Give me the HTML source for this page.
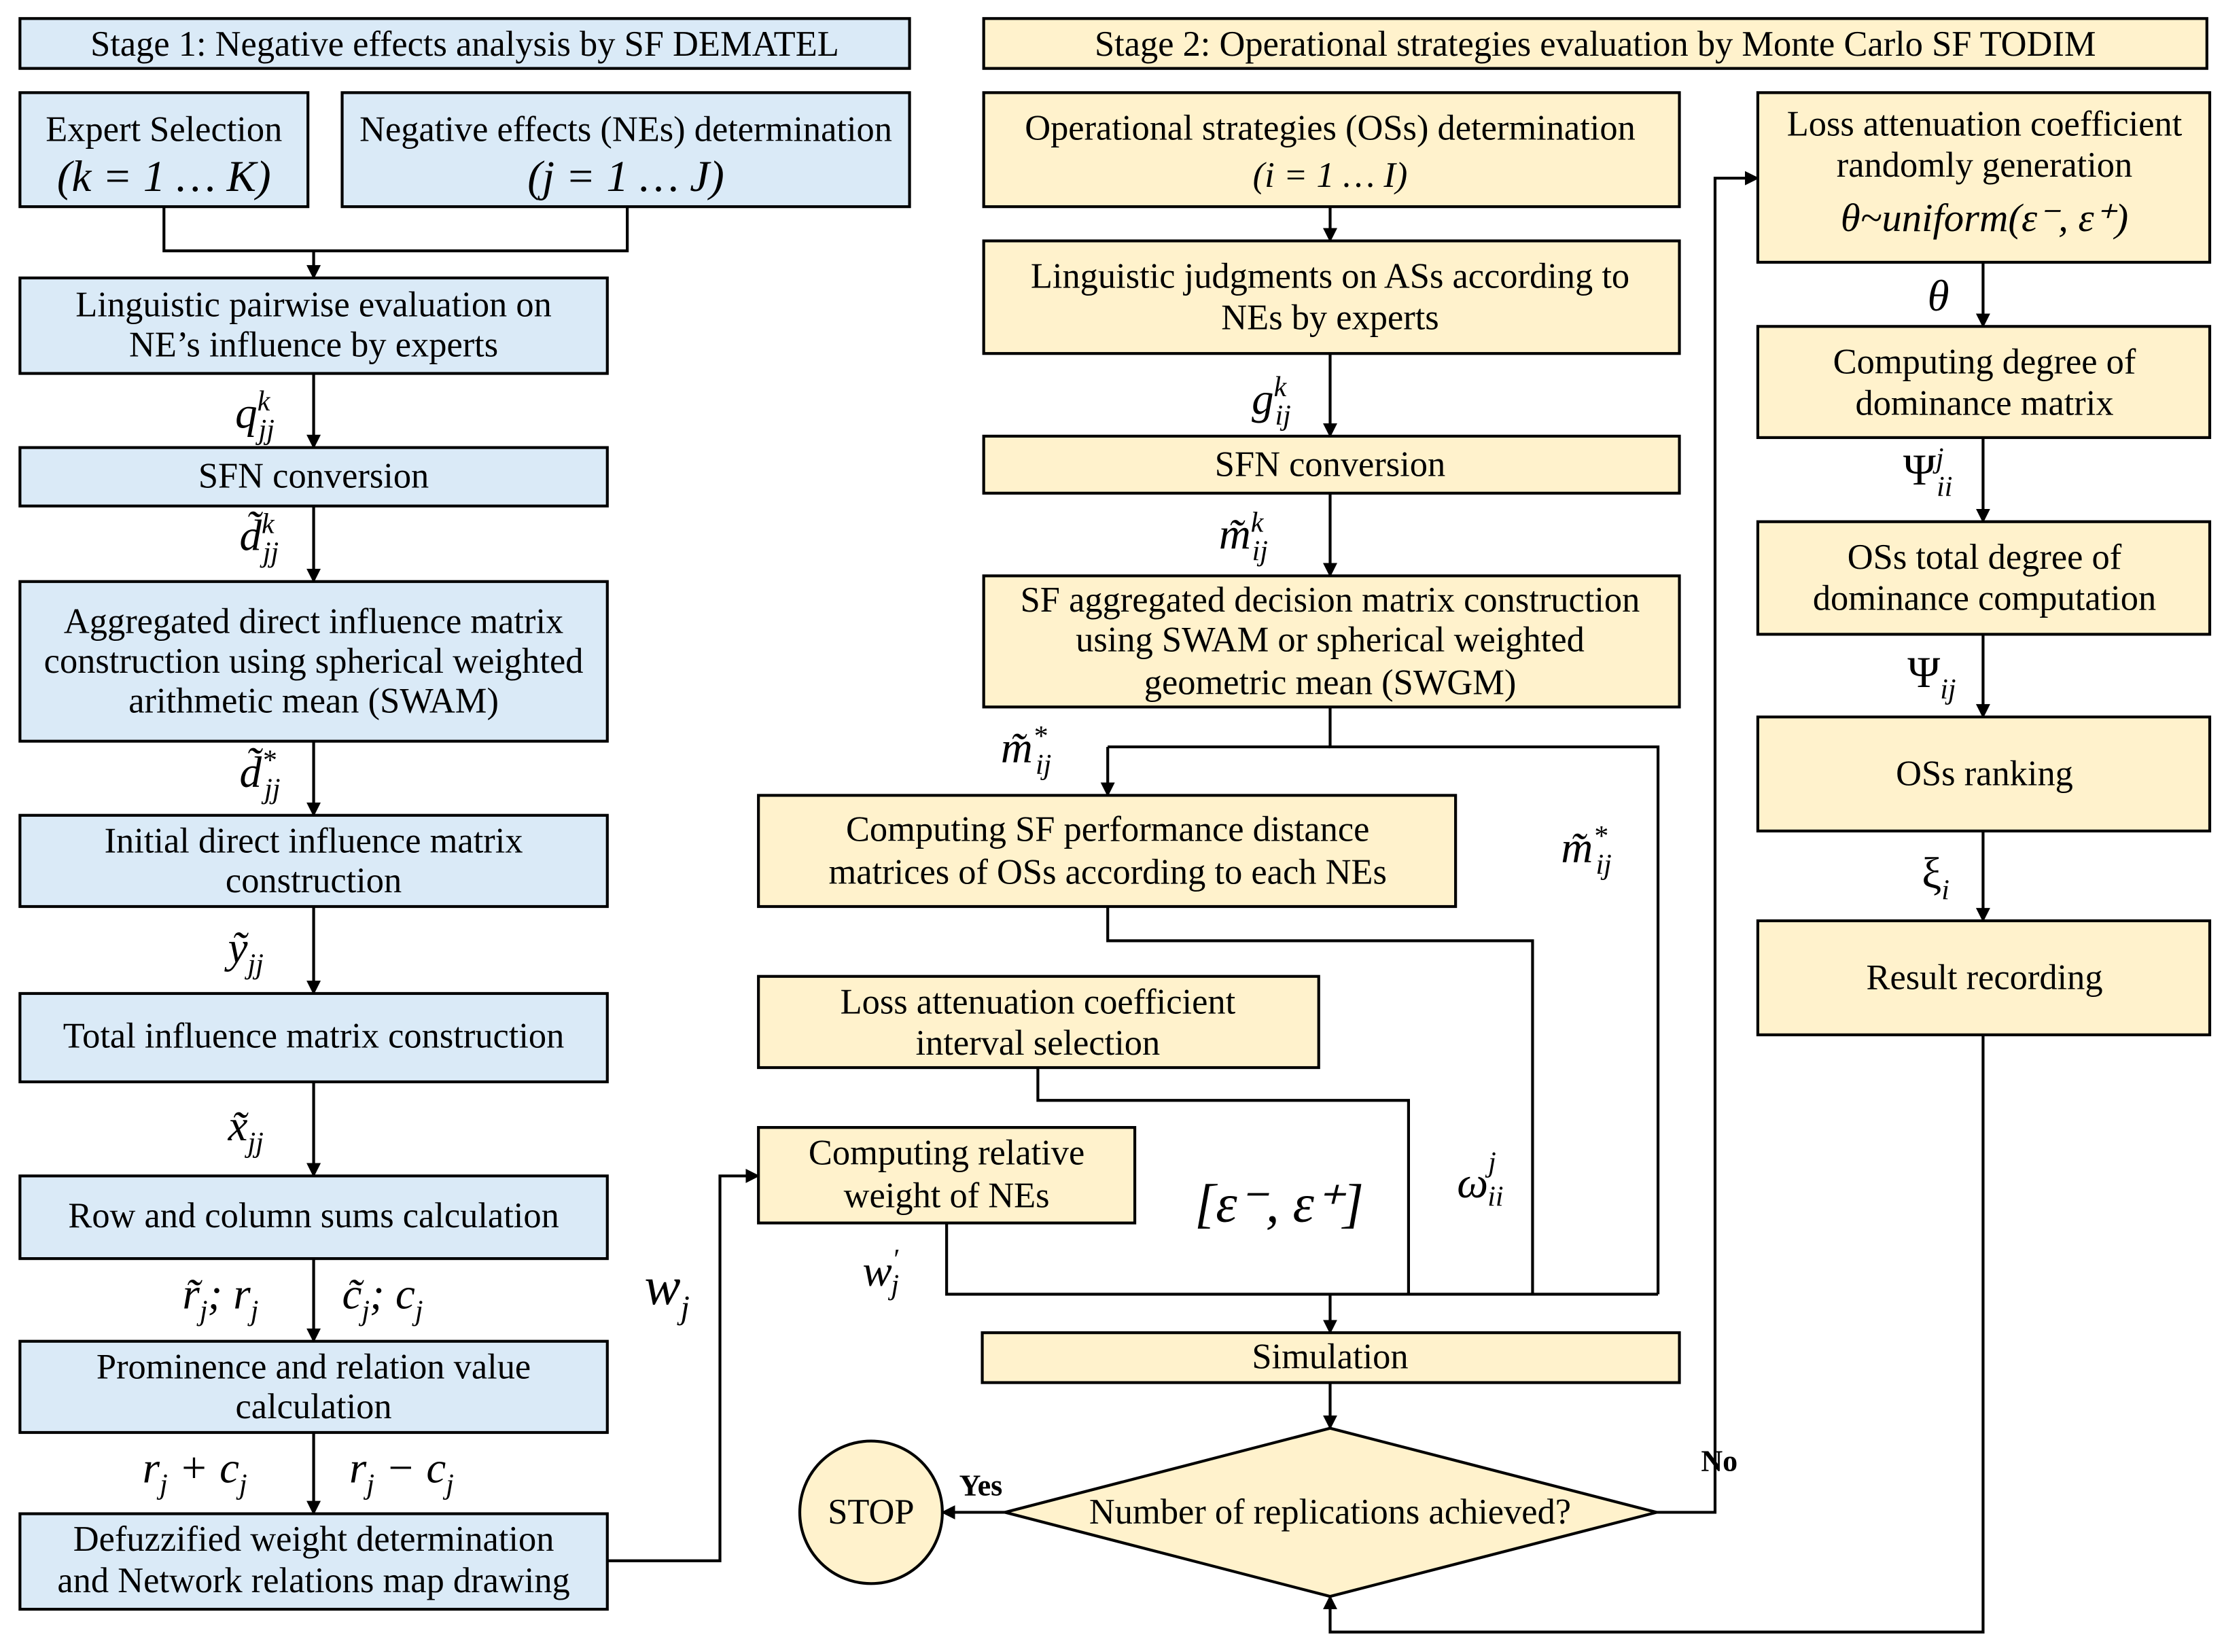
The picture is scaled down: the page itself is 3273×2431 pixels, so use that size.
<!DOCTYPE html>
<html><head><meta charset="utf-8"><style>html,body{margin:0;padding:0;background:#fff}svg{display:block}</style></head>
<body>
<svg width="3273" height="2431" viewBox="0 0 1560 1159" preserveAspectRatio="none" xmlns="http://www.w3.org/2000/svg" font-family="Liberation Serif, serif">
<defs><marker id="a" markerWidth="10" markerHeight="10" refX="9" refY="5" orient="auto" markerUnits="userSpaceOnUse"><path d="M0,0 L10,5 L0,10 z" fill="#000"/></marker></defs>
<g stroke="#000" stroke-width="2">
<g fill="#DAEAF7">
<rect x="14" y="13" width="624" height="35"/>
<rect x="14" y="65" width="202" height="80"/>
<rect x="240" y="65" width="398" height="80"/>
<rect x="14" y="195" width="412" height="67"/>
<rect x="14" y="314" width="412" height="41"/>
<rect x="14" y="408" width="412" height="112"/>
<rect x="14" y="572" width="412" height="64"/>
<rect x="14" y="697" width="412" height="62"/>
<rect x="14" y="825" width="412" height="58"/>
<rect x="14" y="941" width="412" height="64"/>
<rect x="14" y="1062" width="412" height="67"/>
</g>
<g fill="#FFF2CC">
<rect x="690" y="13" width="858" height="35"/>
<rect x="690" y="65" width="488" height="80"/>
<rect x="690" y="169" width="488" height="79"/>
<rect x="690" y="306" width="488" height="40"/>
<rect x="690" y="404" width="488" height="92"/>
<rect x="532" y="558" width="489" height="78"/>
<rect x="532" y="685" width="393" height="64"/>
<rect x="532" y="791" width="264" height="67"/>
<rect x="689" y="935" width="489" height="35"/>
<polygon points="705,1061 933,1002 1162,1061 933,1120"/>
<circle cx="611" cy="1061" r="50"/>
<rect x="1233" y="65" width="317" height="119"/>
<rect x="1233" y="229" width="317" height="78"/>
<rect x="1233" y="366" width="317" height="79"/>
<rect x="1233" y="503" width="317" height="80"/>
<rect x="1233" y="646" width="317" height="80"/>
</g>
<g fill="none">
<path d="M115,145V176H440V145"/>
<path d="M220,176V195" marker-end="url(#a)"/>
<path d="M220,262V314" marker-end="url(#a)"/>
<path d="M220,355V408" marker-end="url(#a)"/>
<path d="M220,520V572" marker-end="url(#a)"/>
<path d="M220,636V697" marker-end="url(#a)"/>
<path d="M220,759V825" marker-end="url(#a)"/>
<path d="M220,883V941" marker-end="url(#a)"/>
<path d="M220,1005V1062" marker-end="url(#a)"/>
<path d="M426,1095H505V825H532" marker-end="url(#a)"/>
<path d="M933,145V169" marker-end="url(#a)"/>
<path d="M933,248V306" marker-end="url(#a)"/>
<path d="M933,346V404" marker-end="url(#a)"/>
<path d="M933,496V524H1163V908"/>
<path d="M777,524H933"/>
<path d="M777,524V558" marker-end="url(#a)"/>
<path d="M777,636V660H1075V908"/>
<path d="M728,749V772H988V908"/>
<path d="M664,858V908H1163"/>
<path d="M933,908V935" marker-end="url(#a)"/>
<path d="M933,970V1002" marker-end="url(#a)"/>
<path d="M705,1061H661" marker-end="url(#a)"/>
<path d="M1162,1061H1203V125H1233" marker-end="url(#a)"/>
<path d="M1391,184V229" marker-end="url(#a)"/>
<path d="M1391,307V366" marker-end="url(#a)"/>
<path d="M1391,445V503" marker-end="url(#a)"/>
<path d="M1391,583V646" marker-end="url(#a)"/>
<path d="M1391,726V1145H933V1120" marker-end="url(#a)"/>
</g>
</g>
<g font-size="25" text-anchor="middle" fill="#000">
<text x="326" y="39">Stage 1: Negative effects analysis by SF DEMATEL</text>
<text x="1119" y="39">Stage 2: Operational strategies evaluation by Monte Carlo SF TODIM</text>
<text x="115" y="99">Expert Selection</text>
<text x="115" y="134" font-size="31" font-style="italic">(k = 1 … K)</text>
<text x="439" y="99">Negative effects (NEs) determination</text>
<text x="439" y="134" font-size="31" font-style="italic">(j = 1 … J)</text>
<text x="220" y="222">Linguistic pairwise evaluation on</text>
<text x="220" y="250">NE’s influence by experts</text>
<text x="220" y="342">SFN conversion</text>
<text x="220" y="444">Aggregated direct influence matrix</text>
<text x="220" y="472">construction using spherical weighted</text>
<text x="220" y="500">arithmetic mean (SWAM)</text>
<text x="220" y="598">Initial direct influence matrix</text>
<text x="220" y="626">construction</text>
<text x="220" y="735">Total influence matrix construction</text>
<text x="220" y="861">Row and column sums calculation</text>
<text x="220" y="967">Prominence and relation value</text>
<text x="220" y="995">calculation</text>
<text x="220" y="1088">Defuzzified weight determination</text>
<text x="220" y="1117">and Network relations map drawing</text>
<text x="933" y="98">Operational strategies (OSs) determination</text>
<text x="933" y="131" font-style="italic">(i = 1 … I)</text>
<text x="933" y="202">Linguistic judgments on ASs according to</text>
<text x="933" y="231">NEs by experts</text>
<text x="933" y="334">SFN conversion</text>
<text x="933" y="429">SF aggregated decision matrix construction</text>
<text x="933" y="457">using SWAM or spherical weighted</text>
<text x="933" y="487">geometric mean (SWGM)</text>
<text x="777" y="590">Computing SF performance distance</text>
<text x="777" y="620">matrices of OSs according to each NEs</text>
<text x="728" y="711">Loss attenuation coefficient</text>
<text x="728" y="740">interval selection</text>
<text x="664" y="817">Computing relative</text>
<text x="664" y="847">weight of NEs</text>
<text x="933" y="960">Simulation</text>
<text x="933" y="1069">Number of replications achieved?</text>
<text x="611" y="1069">STOP</text>
<text x="1392" y="95">Loss attenuation coefficient</text>
<text x="1392" y="124">randomly generation</text>
<text x="1392" y="162" font-size="28" font-style="italic">θ~uniform(ε⁻, ε⁺)</text>
<text x="1392" y="262">Computing degree of</text>
<text x="1392" y="291">dominance matrix</text>
<text x="1392" y="399">OSs total degree of</text>
<text x="1392" y="428">dominance computation</text>
<text x="1392" y="551">OSs ranking</text>
<text x="1392" y="694">Result recording</text>
<text x="688" y="1049" font-weight="bold" font-size="21">Yes</text>
<text x="1206" y="1032" font-weight="bold" font-size="21">No</text>
</g>
<g font-size="31" font-style="italic" fill="#000">
<text x="165" y="300">q<tspan font-size="20" dy="-12">k</tspan><tspan font-size="20" dx="-8" dy="20">jj</tspan></text>
<text x="168" y="386">d̃<tspan font-size="20" dy="-12">k</tspan><tspan font-size="20" dx="-8" dy="20">jj</tspan></text>
<text x="168" y="552">d̃<tspan font-size="20" dy="-12">*</tspan><tspan font-size="20" dx="-8" dy="20">jj</tspan></text>
<text x="160" y="675">ỹ<tspan font-size="20" dy="8">jj</tspan></text>
<text x="160" y="800">x̃<tspan font-size="20" dy="8">jj</tspan></text>
<text x="128" y="918">r̃<tspan font-size="20" dy="8">j</tspan><tspan dy="-8">; r</tspan><tspan font-size="20" dy="8">j</tspan></text>
<text x="240" y="918">c̃<tspan font-size="20" dy="8">j</tspan><tspan dy="-8">; c</tspan><tspan font-size="20" dy="8">j</tspan></text>
<text x="100" y="1040">r<tspan font-size="20" dy="8">j</tspan><tspan dy="-8"> + c</tspan><tspan font-size="20" dy="8">j</tspan></text>
<text x="245" y="1040">r<tspan font-size="20" dy="8">j</tspan><tspan dy="-8"> − c</tspan><tspan font-size="20" dy="8">j</tspan></text>
<text x="452" y="915" font-size="38">w<tspan font-size="23" dy="10">j</tspan></text>
<text x="878" y="290">g<tspan font-size="20" dy="-12">k</tspan><tspan font-size="20" dx="-8" dy="20">ij</tspan></text>
<text x="855" y="385">m̃<tspan font-size="20" dy="-12">k</tspan><tspan font-size="20" dx="-8" dy="20">ij</tspan></text>
<text x="702" y="535">m̃<tspan font-size="20" dy="-12">*</tspan><tspan font-size="20" dx="-8" dy="20">ij</tspan></text>
<text x="1095" y="605">m̃<tspan font-size="20" dy="-12">*</tspan><tspan font-size="20" dx="-8" dy="20">ij</tspan></text>
<text x="1022" y="840">ω<tspan font-size="20" dy="-18">j</tspan><tspan font-size="20" dx="-6" dy="24">ii</tspan></text>
<text x="838" y="857" font-size="38">[ε⁻, ε⁺]</text>
<text x="605" y="902">w<tspan font-size="20" dy="-12">′</tspan><tspan font-size="20" dx="-5" dy="18">j</tspan></text>
<text x="1352" y="218">θ</text>
<text x="1335" y="340" font-style="normal">Ψ<tspan font-style="italic" font-size="20" dy="-12">j</tspan><tspan font-style="italic" font-size="20" dx="-5" dy="20">ii</tspan></text>
<text x="1338" y="482" font-style="normal">Ψ<tspan font-style="italic" font-size="20" dy="8">ij</tspan></text>
<text x="1348" y="623" font-style="normal">ξ<tspan font-style="italic" font-size="20" dy="8">i</tspan></text>
</g>
</svg>
</body></html>
